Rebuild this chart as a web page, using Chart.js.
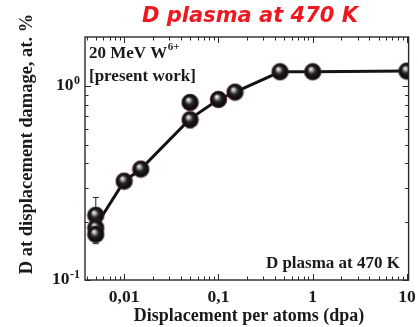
<!DOCTYPE html>
<html>
<head>
<meta charset="utf-8">
<script src="https://cdn.jsdelivr.net/npm/chart.js@4.4.1/dist/chart.umd.min.js"></script>
<style>
  html, body { margin: 0; padding: 0; background: #fff; }
  canvas { display: block; }
</style>
</head>
<body>
<canvas id="chart" width="418" height="327"></canvas>
<script>
// Measured D concentration vs. damage dose (W irradiated with 20 MeV W6+, D plasma at 470 K)
const dpaValues    = [0.005, 0.005, 0.005, 0.01, 0.015, 0.05, 0.05, 0.1, 0.15, 0.45, 1, 10];
const damageValues = [0.216, 0.186, 0.172, 0.324, 0.374, 0.826, 0.673, 0.856, 0.934, 1.19, 1.19, 1.20];
const errorUpper   = [0.267, null, null, null, 0.388, null, null, null, null, 1.24, 1.23, null];
const errorLower   = [null, null, 0.154, 0.312, 0.360, null, 0.611, null, null, 1.13, 1.14, null];

// Trend line through the data
const trendDpa    = [0.005, 0.01, 0.015, 0.05, 0.1, 0.15, 0.45, 1, 10];
const trendDamage = [0.19, 0.324, 0.374, 0.68, 0.856, 0.934, 1.19, 1.19, 1.20];

// Axis ticks
const xTickValues = [0.01, 0.1, 1, 10];
const xTickLabels = ['0,01', '0,1', '1', '10'];
const yTickValues = [0.1, 1];
const yTickExponents = ['-1', '0'];

const chartTitle = 'D plasma at 470 K';
const xAxisTitle = 'Displacement per atoms (dpa)';
const yAxisTitle = 'D at displacement damage, at. %';
const noteLines = ['20 MeV W', '[present work]'];
const noteSup = '6+';
const cornerNote = 'D plasma at 470 K';

const SERIF = '"Liberation Serif", "Times New Roman", serif';

// Shaded sphere used as the point marker
function makeSphere(r) {
  const s = Math.ceil(2 * r + 2);
  const cv = document.createElement('canvas');
  cv.width = s; cv.height = s;
  const c = cv.getContext('2d');
  const cx = s / 2, cy = s / 2;
  const g = c.createRadialGradient(cx - 2, cy - 3, 0.3, cx, cy, r);
  g.addColorStop(0, '#f8f8f8');
  g.addColorStop(0.2, '#a0a0a0');
  g.addColorStop(0.45, '#262626');
  g.addColorStop(0.82, '#0a0a0a');
  g.addColorStop(1, '#2a2a2a');
  c.beginPath();
  c.arc(cx, cy, r, 0, Math.PI * 2);
  c.fillStyle = g;
  c.fill();
  c.lineWidth = 0.6;
  c.strokeStyle = '#5a1a1a';
  c.stroke();
  return cv;
}
const sphere = makeSphere(8.4);

function minorValues(min, max) {
  const out = [];
  for (let d = Math.floor(Math.log10(min)); d <= Math.ceil(Math.log10(max)); d++) {
    for (let m = 1; m <= 9; m++) {
      const v = m * Math.pow(10, d);
      if (v >= min * 0.999 && v <= max * 1.001) out.push({ v, major: m === 1 });
    }
  }
  return out;
}

const errorBars = {
  id: 'errorBars',
  beforeDatasetsDraw(chart) {
    const { ctx, scales: { x, y } } = chart;
    ctx.save();
    ctx.strokeStyle = '#222';
    ctx.lineWidth = 1;
    dpaValues.forEach((d, i) => {
      const px = x.getPixelForValue(d);
      const py = y.getPixelForValue(damageValues[i]);
      [errorUpper[i], errorLower[i]].forEach(e => {
        if (e == null) return;
        const ey = y.getPixelForValue(e);
        ctx.beginPath();
        ctx.moveTo(px, py); ctx.lineTo(px, ey);
        ctx.moveTo(px - 3, ey); ctx.lineTo(px + 3, ey);
        ctx.stroke();
      });
    });
    ctx.restore();
  }
};

const frameAndText = {
  id: 'frameAndText',
  afterDraw(chart) {
    const { ctx, chartArea: a, scales: { x, y } } = chart;
    ctx.save();
    // frame
    ctx.strokeStyle = '#2a2a2a';
    ctx.lineWidth = 1.4;
    ctx.strokeRect(a.left, a.top, a.right - a.left, a.bottom - a.top);

    // inward ticks on all four sides
    ctx.lineWidth = 1;
    ctx.beginPath();
    minorValues(x.min, x.max).forEach(t => {
      const px = Math.round(x.getPixelForValue(t.v)) + 0.5;
      const len = t.major ? 6 : 3.5;
      ctx.moveTo(px, a.bottom); ctx.lineTo(px, a.bottom - len);
      ctx.moveTo(px, a.top); ctx.lineTo(px, a.top + len);
    });
    minorValues(y.min, y.max).forEach(t => {
      const py = Math.round(y.getPixelForValue(t.v)) + 0.5;
      const len = t.major ? 6 : 3.5;
      ctx.moveTo(a.left, py); ctx.lineTo(a.left + len, py);
      ctx.moveTo(a.right, py); ctx.lineTo(a.right - len, py);
    });
    ctx.stroke();

    ctx.fillStyle = '#1a1a1a';
    // x tick labels
    ctx.font = 'bold 17.5px ' + SERIF;
    ctx.textAlign = 'center';
    ctx.textBaseline = 'alphabetic';
    xTickValues.forEach((v, i) => {
      ctx.fillText(xTickLabels[i], x.getPixelForValue(v), 302);
    });

    // y tick labels: 10 with superscript exponent
    yTickValues.forEach((v, i) => {
      const py = y.getPixelForValue(v);
      ctx.font = 'bold 12px ' + SERIF;
      const supW = ctx.measureText(yTickExponents[i]).width;
      ctx.textAlign = 'right';
      ctx.fillText(yTickExponents[i], 80, py - 2);
      ctx.font = 'bold 17.5px ' + SERIF;
      ctx.fillText('10', 80 - supW - 0.5, py + 4);
    });

    // axis titles
    ctx.font = 'bold 18px ' + SERIF;
    ctx.textAlign = 'center';
    ctx.fillText(xAxisTitle, 249, 321);
    ctx.save();
    ctx.translate(32, 144);
    ctx.rotate(-Math.PI / 2);
    ctx.font = 'bold 18.5px ' + SERIF;
    ctx.fillText(yAxisTitle, 0, 0);
    ctx.restore();

    // notes inside the plot
    ctx.font = 'bold 17px ' + SERIF;
    ctx.textAlign = 'left';
    ctx.fillText(noteLines[0], 89, 58);
    const w = ctx.measureText(noteLines[0]).width;
    ctx.font = 'bold 11px ' + SERIF;
    ctx.fillText(noteSup, 89 + w + 0.5, 50);
    ctx.font = 'bold 17px ' + SERIF;
    ctx.fillText(noteLines[1], 89, 81);
    ctx.textAlign = 'right';
    ctx.fillText(cornerNote, 400, 268);

    // red title
    ctx.font = 'italic bold 21px "DejaVu Sans", sans-serif';
    ctx.textAlign = 'center';
    ctx.fillStyle = '#ee1820';
    ctx.fillText(chartTitle, 250, 22);
    ctx.restore();
  }
};

new Chart(document.getElementById('chart'), {
  type: 'scatter',
  data: {
    datasets: [
      {
        label: 'measured',
        data: dpaValues.map((d, i) => ({ x: d, y: damageValues[i] })),
        pointStyle: sphere,
        pointRadius: 8.4,
        pointHoverRadius: 8.4,
        showLine: false,
        clip: 0,
        order: 0
      },
      {
        label: 'trend',
        data: trendDpa.map((d, i) => ({ x: d, y: trendDamage[i] })),
        showLine: true,
        borderColor: '#141414',
        borderWidth: 3,
        pointRadius: 0,
        tension: 0,
        clip: 0,
        order: 1
      }
    ]
  },
  options: {
    responsive: false,
    animation: false,
    devicePixelRatio: 1,
    layout: { padding: { left: 85, right: 8.7, top: 37, bottom: 47 } },
    scales: {
      x: { type: 'logarithmic', min: 0.00384, max: 10.4, display: false },
      y: { type: 'logarithmic', min: 0.1, max: 1.8, display: false }
    },
    plugins: { legend: { display: false }, tooltip: { enabled: false } }
  },
  plugins: [errorBars, frameAndText]
});
</script>
</body>
</html>
